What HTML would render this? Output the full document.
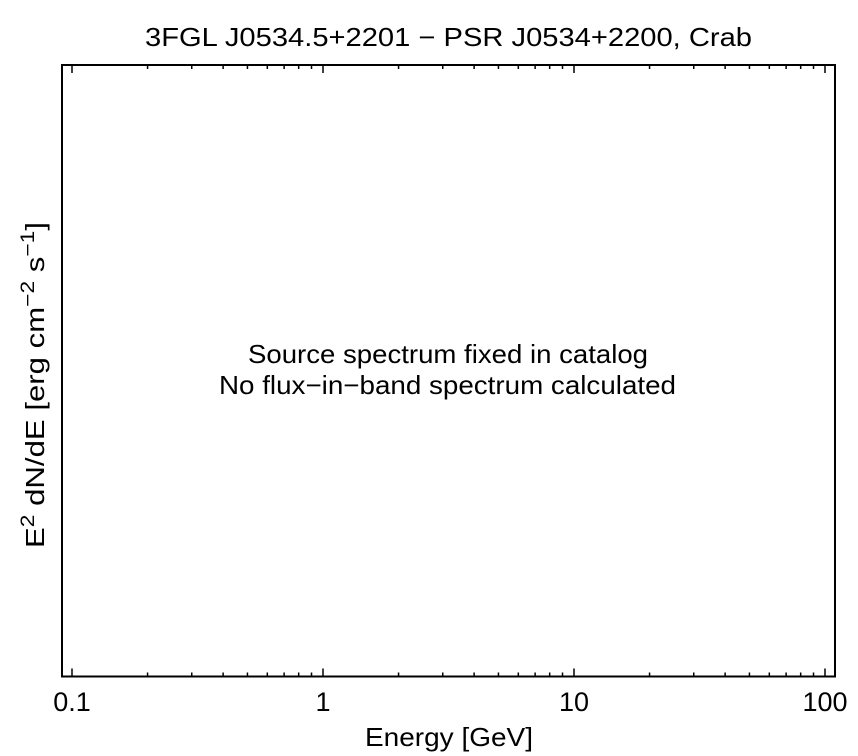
<!DOCTYPE html>
<html><head><meta charset="utf-8"><style>
body{margin:0;background:#fff;}
svg{display:block;font-family:"Liberation Sans",sans-serif;}
</style></head><body>
<svg id="c" width="858" height="756">
<text x="448.5" y="46" font-size="26" text-anchor="middle" textLength="607" lengthAdjust="spacingAndGlyphs">3FGL J0534.5+2201 − PSR J0534+2200, Crab</text>
<rect x="62" y="65" width="773" height="611.5" fill="none" stroke="#000" stroke-width="2"/>
<g id="ticks"></g>
<text x="448" y="363" font-size="26" text-anchor="middle" textLength="400" lengthAdjust="spacingAndGlyphs">Source spectrum fixed in catalog</text>
<text x="447.5" y="394" font-size="26" text-anchor="middle" textLength="457" lengthAdjust="spacingAndGlyphs">No flux−in−band spectrum calculated</text>
<text x="449" y="746" font-size="26" text-anchor="middle" textLength="168" lengthAdjust="spacingAndGlyphs">Energy [GeV]</text>
<text transform="translate(44,385) rotate(-90)" font-size="26" text-anchor="middle" textLength="326" lengthAdjust="spacingAndGlyphs">E<tspan dy="-10" font-size="19">2</tspan><tspan dy="10"> dN/dE [erg cm</tspan><tspan dy="-10" font-size="19">−2</tspan><tspan dy="10"> s</tspan><tspan dy="-10" font-size="19">−1</tspan><tspan dy="10">]</tspan></text>
</svg>
<script>
const tickValues=[0.1,1,10,100];
const tickLabels=["0.1","1","10","100"];
const xScale=v=>72+251*Math.log10(v/0.1);
const g=document.getElementById('ticks');
const NS='http://www.w3.org/2000/svg';
const yTop=65,yBot=676.5;
function line(x1,y1,x2,y2){const l=document.createElementNS(NS,'line');l.setAttribute('x1',x1);l.setAttribute('y1',y1);l.setAttribute('x2',x2);l.setAttribute('y2',y2);l.setAttribute('stroke','#000');l.setAttribute('stroke-width','1.5');


g.appendChild(l);}
for(let d=0.1;d<99;d*=10){for(let k=1;k<10;k++){const px=xScale(d*k);const len=k===1?8:4;line(px,yBot,px,yBot-len);line(px,yTop,px,yTop+len);}}
line(xScale(100),yBot,xScale(100),yBot-8);line(xScale(100),yTop,xScale(100),yTop+8);
tickValues.forEach((v,i)=>{const t=document.createElementNS(NS,'text');t.setAttribute('x',xScale(v));t.setAttribute('y',711);t.setAttribute('font-size','27');t.setAttribute('text-anchor','middle');t.textContent=tickLabels[i];


g.appendChild(t);});
</script>
</body></html>
